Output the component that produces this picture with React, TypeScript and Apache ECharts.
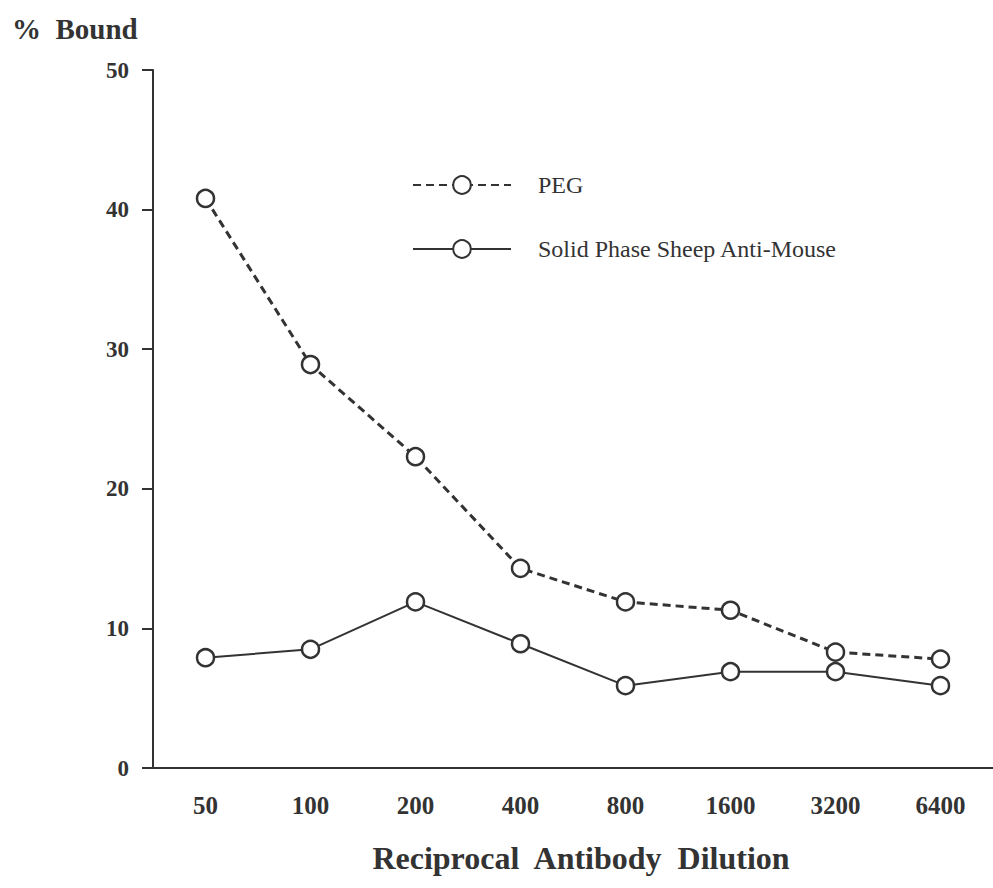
import React, { useEffect, useRef } from "react";
import * as echarts from "echarts";

const categories = ["50", "100", "200", "400", "800", "1600", "3200", "6400"];
const pegValues = [40.8, 28.9, 22.3, 14.3, 11.9, 11.3, 8.3, 7.8];
const solidValues = [7.9, 8.5, 11.9, 8.9, 5.9, 6.9, 6.9, 5.9];
const yTicks = { min: 0, max: 50, interval: 10 };

const INK = "#333333";
const SERIF = "'Liberation Serif', 'DejaVu Serif', serif";

export default function App() {
  const ref = useRef<HTMLDivElement>(null);
  useEffect(() => {
    if (!ref.current) return;
    const chart = echarts.init(ref.current, undefined, { renderer: "svg" });
    chart.setOption({
      animation: false,
      backgroundColor: "#ffffff",
      grid: { left: 153, right: 0, top: 70, bottom: 120 },
      legend: {
        orient: "vertical",
        left: 407,
        top: 168,
        itemWidth: 98,
        itemHeight: 22,
        itemGap: 40,
        textStyle: { fontFamily: SERIF, fontSize: 24, color: INK, padding: [0, 0, 0, 22] },
        data: ["PEG", "Solid Phase Sheep Anti-Mouse"],
      },
      xAxis: {
        type: "category",
        data: categories,
        boundaryGap: true,
        axisLine: { lineStyle: { color: INK, width: 2 } },
        axisTick: { alignWithLabel: true, length: 9, lineStyle: { color: INK, width: 2 } },
        axisLabel: {
          margin: 25,
          fontFamily: SERIF,
          fontWeight: "bold",
          fontSize: 25,
          color: INK,
        },
        splitLine: { show: false },
      },
      yAxis: {
        type: "value",
        min: yTicks.min,
        max: yTicks.max,
        interval: yTicks.interval,
        axisLine: { show: true, lineStyle: { color: INK, width: 2 } },
        axisTick: { show: true, length: 11, lineStyle: { color: INK, width: 2 } },
        axisLabel: {
          margin: 24,
          fontFamily: SERIF,
          fontWeight: "bold",
          fontSize: 23,
          color: INK,
        },
        splitLine: { show: false },
      },
      graphic: [
        {
          type: "text",
          left: 12,
          top: 14,
          style: {
            text: "%  Bound",
            fontFamily: SERIF,
            fontWeight: "bold",
            fontSize: 29,
            fill: INK,
          },
        },
        {
          type: "text",
          x: 581,
          y: 858,
          style: {
            text: "Reciprocal  Antibody  Dilution",
            fontFamily: SERIF,
            fontWeight: "bold",
            fontSize: 32,
            fill: INK,
            align: "center",
            verticalAlign: "middle",
          },
        },
      ],
      series: [
        {
          name: "PEG",
          type: "line",
          data: pegValues,
          symbol: "circle",
          symbolSize: 17,
          itemStyle: { color: "#ffffff", borderColor: INK, borderWidth: 2.5 },
          lineStyle: { color: INK, width: 3, type: [8, 5] },
        },
        {
          name: "Solid Phase Sheep Anti-Mouse",
          type: "line",
          data: solidValues,
          symbol: "circle",
          symbolSize: 17,
          itemStyle: { color: "#ffffff", borderColor: INK, borderWidth: 2.5 },
          lineStyle: { color: INK, width: 2, type: "solid" },
        },
      ],
    });
    return () => chart.dispose();
  }, []);
  return (
    <div
      ref={ref}
      style={{ position: "fixed", left: 0, top: 0, width: 993, height: 888, background: "#fff" }}
    />
  );
}
